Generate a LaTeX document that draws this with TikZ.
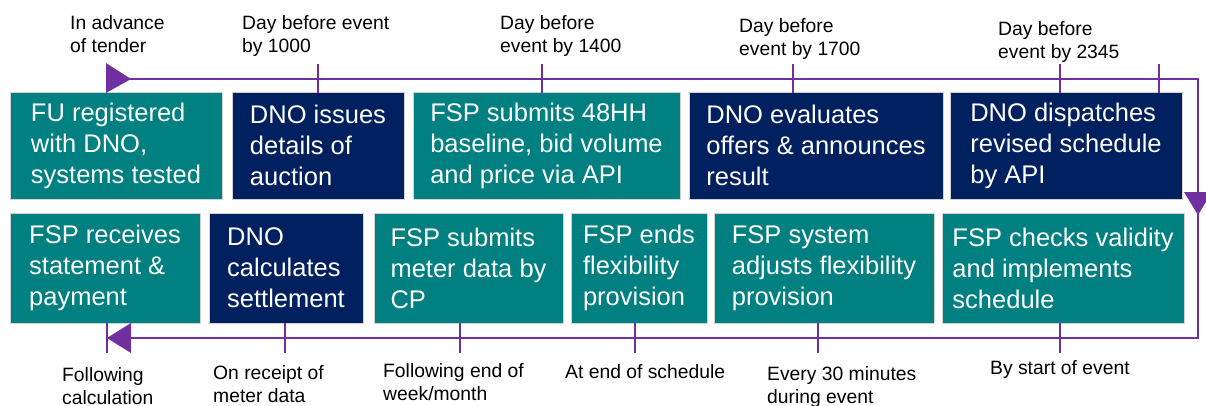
\documentclass[tikz,border=0pt]{standalone}
\usepackage{fontspec}
\setmainfont{Liberation Sans}
\definecolor{fspteal}{HTML}{008080}
\definecolor{dnonavy}{HTML}{002060}
\definecolor{flowpurple}{HTML}{7030A0}

\begin{document}
\begin{tikzpicture}[x=1pt,y=-1pt,
  fsp/.style={draw=gray!35,line width=.6pt,fill=fspteal,text=white,align=left,inner xsep=4pt,
    font=\fontsize{25.5}{31}\selectfont},
  dno/.style={fsp,fill=dnonavy},
  lbl/.style={anchor=north west,inner sep=0pt,align=left,font=\fontsize{19.3}{23.5}\selectfont},
  flow/.style={draw=flowpurple,line width=2.6pt}]
  \useasboundingbox (0,0) rectangle (1206,405);
  % top row
  \node[fsp,minimum width=212pt,minimum height=107pt] (a1) at (116,145.5) {FU registered\\with DNO,\\systems tested};
  \node[dno,minimum width=172pt,minimum height=107pt] (a2) at (318,145.5) {DNO issues\\details of\\auction};
  \node[fsp,minimum width=267pt,minimum height=107pt] (a3) at (546.5,145.5) {FSP submits 48HH\\baseline, bid volume\\and price via API};
  \node[dno,minimum width=254pt,minimum height=107pt] (a4) at (816,145.5) {DNO evaluates\\offers \& announces\\result};
  \node[dno,minimum width=232pt,minimum height=107pt] (a5) at (1066,145.5) {DNO dispatches\\revised schedule\\by API};
  % bottom row
  \node[fsp,minimum width=190pt,minimum height=110pt] (b1) at (105,268) {FSP receives\\statement \&\\payment};
  \node[dno,minimum width=154pt,minimum height=110pt] (b2) at (286,268) {DNO\\calculates\\settlement};
  \node[fsp,minimum width=189pt,minimum height=110pt] (b3) at (468.5,268) {FSP submits\\meter data by\\CP};
  \node[fsp,minimum width=136pt,minimum height=110pt] (b4) at (639,268) {FSP ends\\flexibility\\provision};
  \node[fsp,minimum width=220pt,minimum height=110pt] (b5) at (824,268) {FSP system\\adjusts flexibility\\provision};
  \node[fsp,minimum width=242pt,minimum height=110pt] (b6) at (1063,268) {FSP checks validity\\and implements\\schedule};
  % timing labels
  \node[lbl] (t1) at (70,15) {In advance\\of tender};
  \node[lbl] (t2) at (242,15) {Day before event\\by 1000};
  \node[lbl] (t3) at (500,15) {Day before\\event by 1400};
  \node[lbl] (t4) at (739,18) {Day before\\event by 1700};
  \node[lbl] (t5) at (998,21) {Day before\\event by 2345};
  \node[lbl] (u1) at (62,367) {Following\\calculation};
  \node[lbl] (u2) at (213,365) {On receipt of\\meter data};
  \node[lbl] (u3) at (383,363) {Following end of\\week/month};
  \node[lbl] (u4) at (565,364) {At end of schedule};
  \node[lbl] (u5) at (767,366) {Every 30 minutes\\during event};
  \node[lbl] (u6) at (990,360) {By start of event};
  % process loop
  \coordinate (s) at (106,79);
  \coordinate (ne) at (1198,79);
  \coordinate (se) at (1198,338);
  \coordinate (e) at (107,338);
  \draw[flow] (s) -- (ne) -- (se) -- (e);
  \fill[flowpurple] (106,63) -- (131,79) -- (106,93) -- cycle;
  \fill[flowpurple] (1184,192) -- (1212,192) -- (1198,215) -- cycle;
  \fill[flowpurple] (131,323) -- (107,338) -- (131,353) -- cycle;
  \foreach \x in {318,542,793,1060,1159} \draw[flow] (\x,64) -- (\x,93);
  \foreach \x in {107,285,460,635,818,1060} \draw[flow] (\x,323) -- (\x,353);
\end{tikzpicture}
\end{document}
